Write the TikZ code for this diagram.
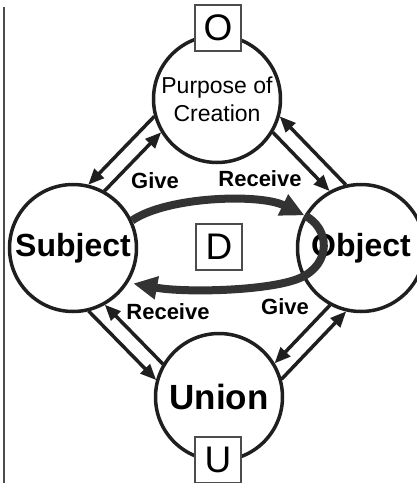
\documentclass[tikz,border=0pt]{standalone}
\usepackage{fontspec}
\setmainfont{Liberation Sans}
\usepackage{xcolor}
\colorlet{colorLine}{black!88}
\colorlet{colorBand}{black!80}
\colorlet{colorBox}{black!70}
\usepackage{tikz}
\usetikzlibrary{arrows.meta, calc}

\begin{document}
\begin{tikzpicture}[x=1pt, y=-1pt, thick,
  circ/.style={circle, draw=colorLine, line width=3.5pt, fill=white, minimum size=127pt, inner sep=0pt, align=center},
  letter/.style={draw=colorBox, line width=1.5pt, fill=white, minimum size=46pt, inner sep=0pt, font=\fontsize{37}{37}\selectfont},
  flow/.style={draw=colorLine, line width=3.5pt, -{Triangle[length=16pt, width=13pt]}},
  band/.style={draw=colorBand, line width=8pt},
  lbl/.style={font=\fontsize{22}{22}\selectfont\bfseries}]
\useasboundingbox (0,0) rectangle (417,483);
\draw[line width=2pt, colorBox] (4,7) -- (4,483);

% the four circles
\node[circ, font=\fontsize{23}{28}\selectfont] (purp) at (217,99) {Purpose of\\Creation};
\node[circ, font=\fontsize{32}{32}\selectfont\bfseries] (subj) at (73,248) {Subject};
\node[circ, font=\fontsize{32}{32}\selectfont\bfseries] (obj) at (361,248) {Object};
\node[circ, font=\fontsize{35}{35}\selectfont\bfseries] (uni) at (219,397) {Union};

\node[lbl] (give1) at (155,181) {Give};
\node[lbl] (recv1) at (260,179) {Receive};
\node[lbl] (recv2) at (168,312) {Receive};
\node[lbl] (give2) at (285,307) {Give};

% give and receive between neighbours
\foreach \a/\b in {subj/purp, purp/obj, obj/uni, uni/subj} {
  \draw[flow, shorten >=56pt, shorten <=56pt] ($(\b)!33pt!-90:(\a)$) -- ($(\a)!33pt!90:(\b)$);
  \draw[flow, shorten >=62.7pt, shorten <=62.7pt] ($(\a)!17pt!90:(\b)$) -- ($(\b)!17pt!-90:(\a)$);
}

% the loop between subject and object
\draw[band, -{Triangle[length=24pt, width=22pt]}, shorten >=5pt] (obj.150) .. controls (330,228) and (332,264) .. (300,278) .. controls (270,291) and (185,293) .. (subj.-32);
\draw[band, -{Triangle[length=24pt, width=22pt]}] (subj.25) .. controls +(35,-24) and +(-45,-22) .. (obj.150);

\node[letter] (o) at (218,28) {O};
\node[letter] (d) at (219,247) {D};
\node[letter] (u) at (218,460) {U};
\end{tikzpicture}
\end{document}
